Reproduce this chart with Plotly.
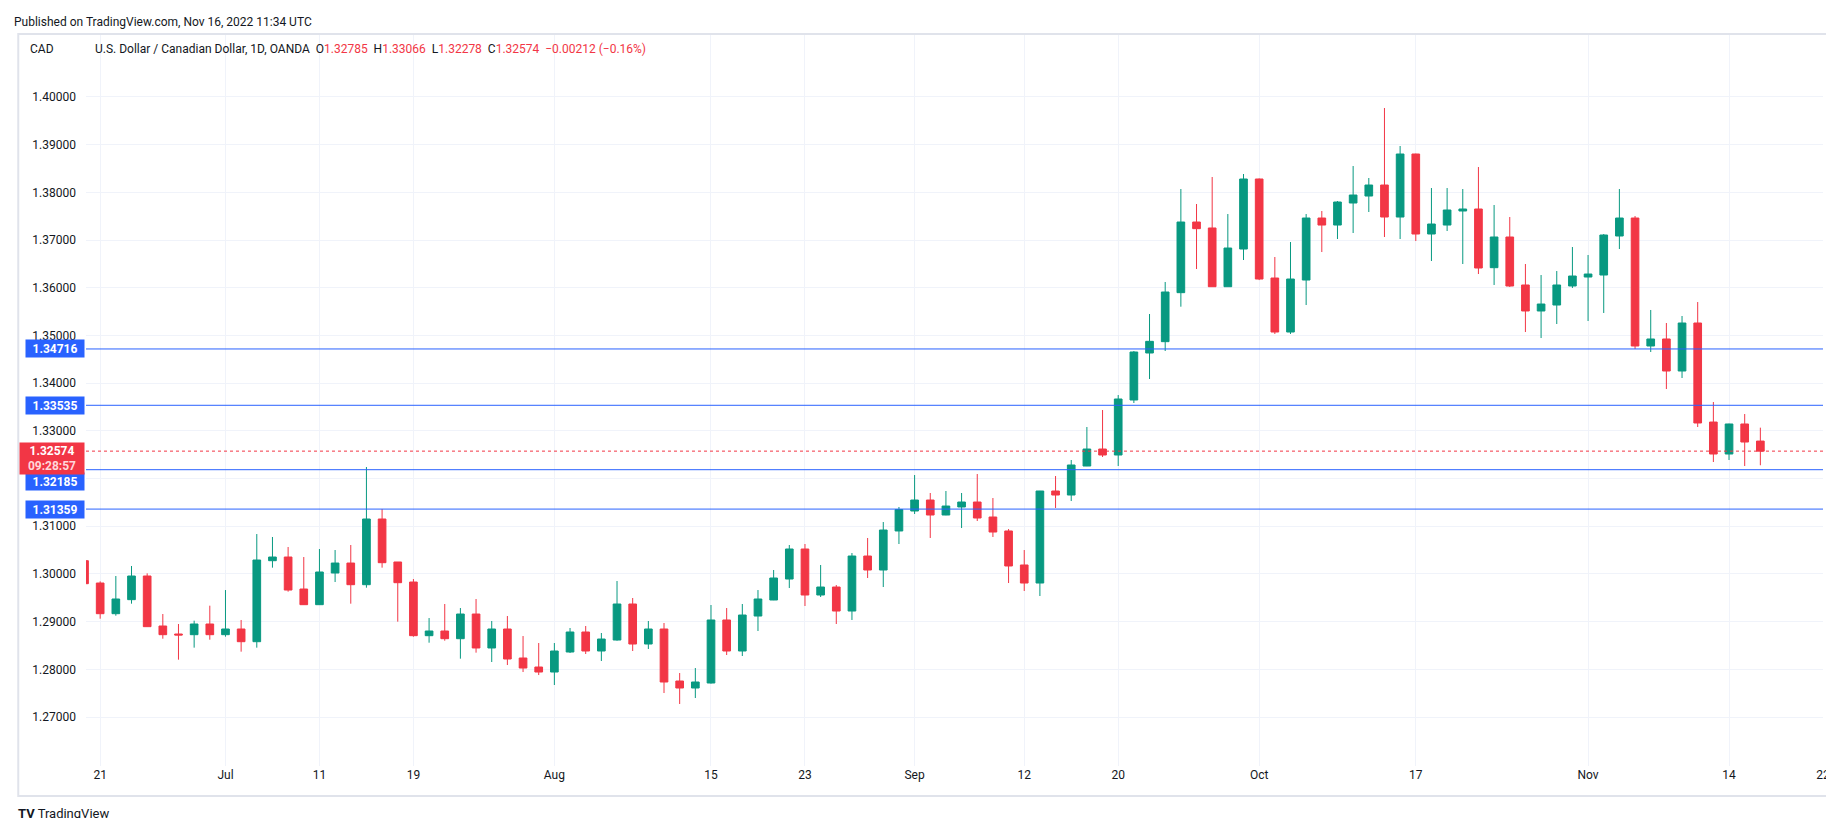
import numpy as np
import pandas as pd
import plotly.graph_objects as go

# USD/CAD daily candles (OANDA), weekdays 20 Jun - 16 Nov 2022
dates = pd.bdate_range("2022-06-20", "2022-11-16")

opens = [
    1.30277, 1.29809, 1.29166, 1.29460, 1.29956,
    1.28908, 1.28740, 1.28726, 1.28950, 1.28726,
    1.28845, 1.28579, 1.30277, 1.30354, 1.29683,
    1.29355, 1.30019, 1.30228, 1.29774, 1.31151,
    1.30250, 1.29830, 1.28705, 1.28803, 1.28642,
    1.29159, 1.28447, 1.28845, 1.28237, 1.28048,
    1.27943, 1.28363, 1.28782, 1.28384, 1.28614,
    1.29369, 1.28530, 1.28845, 1.27755, 1.27608,
    1.27713, 1.29034, 1.28384, 1.29117, 1.29453,
    1.29893, 1.30522, 1.29558, 1.29725, 1.29222,
    1.30375, 1.30082, 1.30900, 1.31319, 1.31549,
    1.31235, 1.31403, 1.31507, 1.31193, 1.30900,
    1.30187, 1.29809, 1.31738, 1.31654, 1.32262,
    1.32618, 1.32493, 1.33646, 1.34631, 1.34869,
    1.35896, 1.37377, 1.37252, 1.36021, 1.36811,
    1.38279, 1.36203, 1.35071, 1.36161, 1.37461,
    1.37314, 1.37776, 1.37922, 1.38153, 1.37482,
    1.38803, 1.37126, 1.37314, 1.37608, 1.37650,
    1.36420, 1.37063, 1.36057, 1.35512, 1.35637,
    1.36036, 1.36224, 1.36266, 1.37084, 1.37461,
    1.34778, 1.34925, 1.34254, 1.35260, 1.33184,
    1.32514, 1.33143, 1.32785,
]
highs = [
    1.30330, 1.29844, 1.29956, 1.30166, 1.30012,
    1.29159, 1.28950, 1.29020, 1.29334, 1.29662,
    1.29034, 1.30836, 1.30774, 1.30564, 1.30354,
    1.30522, 1.30501, 1.30606, 1.32241, 1.31361,
    1.30250, 1.29893, 1.29075, 1.29369, 1.29285,
    1.29474, 1.29013, 1.29117, 1.28698, 1.28551,
    1.28551, 1.28866, 1.28908, 1.28761, 1.29851,
    1.29495, 1.29013, 1.28971, 1.27922, 1.28027,
    1.29348, 1.29285, 1.29369, 1.29662, 1.30082,
    1.30606, 1.30627, 1.30187, 1.29767, 1.30438,
    1.30753, 1.31088, 1.31403, 1.32073, 1.31696,
    1.31738, 1.31696, 1.32094, 1.31591, 1.30941,
    1.30501, 1.31740, 1.32052, 1.32388, 1.33080,
    1.33436, 1.33750, 1.34673, 1.35449, 1.36120,
    1.38069, 1.37755, 1.38321, 1.37545, 1.38384,
    1.38290, 1.36644, 1.36958, 1.37545, 1.37608,
    1.37818, 1.38551, 1.38300, 1.39767, 1.38971,
    1.38810, 1.38090, 1.38090, 1.38069, 1.38530,
    1.37734, 1.37482, 1.36497, 1.36266, 1.36350,
    1.36853, 1.36686, 1.37126, 1.38069, 1.37503,
    1.35533, 1.35260, 1.35407, 1.35700, 1.33604,
    1.33150, 1.33352, 1.33066,
]
lows = [
    1.29760, 1.29061, 1.29124, 1.29376, 1.28890,
    1.28642, 1.28202, 1.28454, 1.28621, 1.28684,
    1.28370, 1.28454, 1.30131, 1.29628, 1.29350,
    1.29350, 1.29830, 1.29376, 1.29711, 1.30131,
    1.28999, 1.28684, 1.28558, 1.28600, 1.28223,
    1.28349, 1.28153, 1.28090, 1.27943, 1.27880,
    1.27671, 1.28342, 1.28321, 1.28174, 1.28600,
    1.28384, 1.28426, 1.27503, 1.27273, 1.27398,
    1.27700, 1.28300, 1.28279, 1.28803, 1.29450,
    1.29704, 1.29327, 1.29516, 1.28950, 1.29034,
    1.29914, 1.29725, 1.30627, 1.31256, 1.30753,
    1.31230, 1.30962, 1.31109, 1.30774, 1.29809,
    1.29642, 1.29537, 1.31382, 1.31528, 1.32260,
    1.32451, 1.32262, 1.33583, 1.34086, 1.34673,
    1.35602, 1.36392, 1.36020, 1.36020, 1.36581,
    1.36160, 1.35030, 1.35030, 1.35637, 1.36748,
    1.37021, 1.37147, 1.37587, 1.37063, 1.37021,
    1.36979, 1.36560, 1.37189, 1.36497, 1.36287,
    1.36057, 1.36015, 1.35071, 1.34945, 1.35239,
    1.35994, 1.35302, 1.35470, 1.36811, 1.34715,
    1.34652, 1.33876, 1.34107, 1.33080, 1.32346,
    1.32388, 1.32262, 1.32278,
]
closes = [
    1.29795, 1.29166, 1.29474, 1.29956, 1.28894,
    1.28726, 1.28720, 1.28950, 1.28726, 1.28845,
    1.28579, 1.30291, 1.30354, 1.29662, 1.29355,
    1.30040, 1.30228, 1.29774, 1.31151, 1.30235,
    1.29816, 1.28705, 1.28803, 1.28642, 1.29159,
    1.28447, 1.28845, 1.28216, 1.28027, 1.27943,
    1.28384, 1.28782, 1.28384, 1.28635, 1.29369,
    1.28530, 1.28845, 1.27734, 1.27608, 1.27734,
    1.29034, 1.28384, 1.29138, 1.29474, 1.29914,
    1.30522, 1.29558, 1.29725, 1.29222, 1.30375,
    1.30082, 1.30920, 1.31350, 1.31549, 1.31235,
    1.31423, 1.31507, 1.31172, 1.30878, 1.30166,
    1.29809, 1.31738, 1.31654, 1.32283, 1.32618,
    1.32493, 1.33667, 1.34652, 1.34876, 1.35910,
    1.37377, 1.37238, 1.36021, 1.36832, 1.38279,
    1.36182, 1.35071, 1.36182, 1.37461, 1.37314,
    1.37797, 1.37943, 1.38153, 1.37482, 1.38803,
    1.37126, 1.37335, 1.37629, 1.37650, 1.36413,
    1.37063, 1.36036, 1.35512, 1.35658, 1.36057,
    1.36245, 1.36287, 1.37105, 1.37461, 1.34778,
    1.34925, 1.34254, 1.35260, 1.33164, 1.32514,
    1.33143, 1.32765, 1.32574,
]

# horizontal levels drawn on the chart
levels = [1.34716, 1.33535, 1.32185, 1.31359]
last_price = 1.32574
countdown = "09:28:57"

# time axis
tick_dates = ["2022-06-21", "2022-07-01", "2022-07-11", "2022-07-19", "2022-08-01",
              "2022-08-15", "2022-08-23", "2022-09-01", "2022-09-12", "2022-09-20",
              "2022-10-03", "2022-10-17", "2022-11-01", "2022-11-14", "2022-11-22"]
tick_labels = ["21", "Jul", "11", "19", "Aug", "15", "23", "Sep", "12", "20",
               "Oct", "17", "Nov", "14", "22"]
price_ticks = [1.27, 1.28, 1.29, 1.30, 1.31, 1.32, 1.33, 1.34,
               1.35, 1.36, 1.37, 1.38, 1.39, 1.40]

UP = "#089981"
DOWN = "#f23645"
BLUE = "#2962ff"
GRID = "#f0f3fa"
TEXT = "#131722"
FONT = "Roboto, Arial, sans-serif"

W, H = 1834, 818
L, R, T, B = 78, 12, 27, 60   # plot area in pixels
y_range = [1.25973, 1.41298]


def px(x):
    return (x - L) / (W - L - R)


def py(y):
    return (H - B - y) / (H - T - B)


start = np.datetime64(dates[0].date())
xs = np.busday_count(start, dates.values.astype("datetime64[D]"))
tick_pos = [int(np.busday_count(start, np.datetime64(d))) for d in tick_dates]

fig = go.Figure()
fig.add_trace(go.Candlestick(
    x=xs, open=opens, high=highs, low=lows, close=closes,
    increasing=dict(line=dict(color=UP, width=1), fillcolor=UP),
    decreasing=dict(line=dict(color=DOWN, width=1), fillcolor=DOWN),
    whiskerwidth=0, showlegend=False, hoverinfo="skip",
))

# pixels per price unit, used to keep the axis labels from overlapping
ppu = (H - T - B) / (y_range[1] - y_range[0])
red_top, red_bottom = -9, 22          # last-price box, px relative to its line (down = +)

for lv in levels:
    fig.add_shape(type="line", xref="paper", x0=0, x1=1, yref="y", y0=lv, y1=lv,
                  line=dict(color=BLUE, width=1))
    dy = (last_price - lv) * ppu      # px below the last price line
    shift = 0
    if dy - 8.5 < red_bottom and dy + 8.5 > red_top:
        shift = -(red_bottom - (dy - 8.5)) if dy > 0 else (dy + 8.5 - red_top)
    fig.add_annotation(xref="paper", x=0, yref="y", y=lv, xanchor="right", yanchor="middle",
                       text="<b>%.5f</b>" % lv, showarrow=False, bgcolor=BLUE,
                       font=dict(color="white", size=12, family=FONT),
                       width=55, height=14, borderpad=1.5, xshift=-1, yshift=shift)
fig.add_shape(type="line", xref="paper", x0=0, x1=1, yref="y", y0=last_price, y1=last_price,
              line=dict(color=DOWN, width=1, dash="dot"))
fig.add_annotation(xref="paper", x=0, yref="y", y=last_price, xanchor="right", yanchor="top",
                   yshift=9, xshift=-1,
                   text="<b>%.5f</b><br><span style='color:#ffd6da'><b>%s</b></span>" % (last_price, countdown),
                   showarrow=False, bgcolor=DOWN, font=dict(color="white", size=12, family=FONT),
                   width=61, height=28, borderpad=1.5)

# outer frame of the chart pane
fig.add_shape(type="rect", xref="paper", yref="paper", x0=px(10), x1=px(1826), y0=py(788), y1=py(26),
              line=dict(color="#e0e3eb", width=2), layer="below")

# header / footer texts
fig.add_annotation(xref="paper", yref="paper", x=px(4), y=py(14), xanchor="left", yanchor="middle",
                   text="Published on TradingView.com, Nov 16, 2022 11:34 UTC", showarrow=False,
                   font=dict(size=12, color=TEXT, family=FONT))
fig.add_annotation(xref="paper", yref="paper", x=px(20), y=py(41), xanchor="left", yanchor="middle",
                   text="CAD", showarrow=False, font=dict(size=12, color=TEXT, family=FONT))
red = "<span style='color:%s'>%s</span>"
legend = ("U.S. Dollar / Canadian Dollar, 1D, OANDA  O" + red % (DOWN, "%.5f" % opens[-1])
          + "  H" + red % (DOWN, "%.5f" % highs[-1])
          + "  L" + red % (DOWN, "%.5f" % lows[-1])
          + "  C" + red % (DOWN, "%.5f" % closes[-1])
          + "  " + red % (DOWN, "−0.00212 (−0.16%)"))
fig.add_annotation(xref="paper", yref="paper", x=px(85), y=py(41), xanchor="left", yanchor="middle",
                   text=legend, showarrow=False, font=dict(size=12, color=TEXT, family=FONT))
fig.add_annotation(xref="paper", yref="paper", x=px(8), y=py(805), xanchor="left", yanchor="middle",
                   text="<b>TV</b> TradingView", showarrow=False,
                   font=dict(size=13, color=TEXT, family=FONT))

fig.update_layout(
    width=W, height=H, margin=dict(l=L, r=R, t=T, b=B),
    paper_bgcolor="white", plot_bgcolor="white",
    font=dict(family=FONT, size=12, color=TEXT),
    showlegend=False, boxgap=0.3,
    xaxis=dict(range=[0.095, tick_pos[-1]], tickmode="array", tickvals=tick_pos, ticktext=tick_labels,
               showgrid=True, gridcolor=GRID, zeroline=False, showline=False, ticks="",
               rangeslider=dict(visible=False), fixedrange=True, ticklabelstandoff=0),
    yaxis=dict(range=y_range, tickmode="array", tickvals=price_ticks, tickformat=".5f",
               side="left", showgrid=True, gridcolor=GRID, zeroline=False, showline=False, ticks="",
               ticklabelstandoff=9, fixedrange=True),
)

fig.write_html("out.html")
